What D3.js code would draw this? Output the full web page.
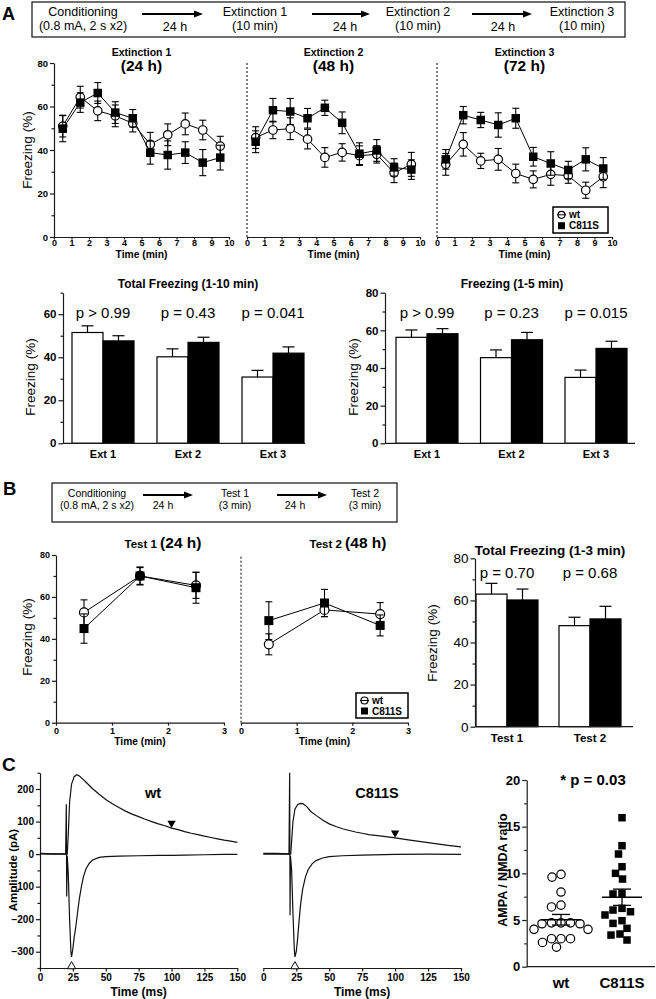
<!DOCTYPE html>
<html><head><meta charset="utf-8">
<script src="https://cdn.jsdelivr.net/npm/d3@7"></script>
<style>
html,body{margin:0;padding:0;background:#fff;}
svg{display:block;font-family:"Liberation Sans",Arial,Helvetica,sans-serif;}
</style></head><body>
<svg id="fig" width="656" height="999"></svg>
<script>
// ---------------- DATA ----------------
const extTimes = [0.5,1.5,2.5,3.5,4.5,5.5,6.5,7.5,8.5,9.5];
const extTicks = [0,1,2,3,4,5,6,7,8,9,10];
const ext1WtMean = [51,64.3,58,55.7,52.3,42.6,47,52,49.2,41.8];
const ext1WtSem  = [5,5,4.5,5,4,5.5,5,5,4.5,4.5];
const ext1MutMean = [49.8,61.8,66.2,57.2,54.6,38.8,37.7,38.8,34.2,36.5];
const ext1MutSem  = [6,4.5,4.8,5,4,5.3,6.5,5,6,5.7];
const ext2WtMean = [45.7,49.2,49.8,45,36.6,38.9,37.4,38,29.5,33.4];
const ext2WtSem  = [5,4,5,4.5,4.5,4,4.5,4,4.5,5.5];
const ext2MutMean = [43.8,58.3,57.7,54.6,59.4,52.5,38.3,39.8,32,31];
const ext2MutSem  = [5,5.4,6,4.5,3.5,5,5,5,4,4.5];
const ext3WtMean = [33.4,42.6,35,35.7,29.2,26.5,28.8,28.2,21.5,27.7];
const ext3WtSem  = [5,5.4,3.5,5,4.3,3.9,5,3.5,3.7,5];
const ext3MutMean = [35.7,56,53.8,51.5,54.6,36.9,33.8,30.8,35.7,31.5];
const ext3MutSem  = [4.5,4,3.5,5.6,4.6,4.3,5.4,4,5.3,5];

const extCats = ["Ext 1","Ext 2","Ext 3"];
const tot10WtMean = [51.5,40.2,30.8];
const tot10WtSem  = [3.1,3.7,3.1];
const tot10MutMean = [47.6,46.9,41.9];
const tot10MutSem  = [2.4,2.4,2.9];
const tot10P = ["p > 0.99","p = 0.43","p = 0.041"];
const frz5WtMean = [56.3,45.5,35];
const frz5WtSem  = [3.9,4.1,3.9];
const frz5MutMean = [58.2,55,50.4];
const frz5MutSem  = [2.7,3.9,3.8];
const frz5P = ["p > 0.99","p = 0.23","p = 0.015"];

const testTimes = [0.5,1.5,2.5];
const testTicks = [0,1,2,3];
const test1WtMean = [52.6,70,65.5];
const test1WtSem  = [6,4,6.2];
const test1MutMean = [44.9,70,64.4];
const test1MutSem  = [7,4.3,7.4];
const test2WtMean = [37.4,53.8,51.8];
const test2WtSem  = [5,3.2,5.5];
const test2MutMean = [48.7,57.1,46.4];
const test2MutSem  = [9,6.5,5];

const testCats = ["Test 1","Test 2"];
const tot3WtMean = [63,48];
const tot3WtSem  = [5.1,4];
const tot3MutMean = [60.2,51.2];
const tot3MutSem  = [5.2,6];
const tot3P = ["p = 0.70","p = 0.68"];

// traces: [time (ms), amplitude (pA)]
const wtNmda = [[0,2],[10,1],[19.5,1],[20.7,0],[21.5,60],[22.5,160],[24,215],[26,238],[28,244],[30,240],[33,229],[36,217],[40,201],[45,184],[50,168],[55,155],[60,143],[65,132],[70,123],[75,115],[80,107],[85,100],[90,93],[95,87],[100,80],[105,75],[110,69],[115,64],[120,60],[125,55],[130,51],[135,47],[140,43],[145,40],[150,36]];
const wtAmpa = [[0,1],[10,0],[19.5,0],[20,153],[20.3,-130],[20.7,-5],[21.5,-60],[22.5,-200],[23.5,-300],[24,-316],[25,-290],[26,-255],[27,-230],[28,-198],[29,-165],[30,-135],[31.5,-100],[33,-70],[35,-45],[37.5,-28],[40,-18],[45,-10],[50,-8],[60,-6],[75,-5],[90,-4],[100,-4],[110,-3],[125,-2],[140,-1],[150,-1]];
const mutNmda = [[0,2],[10,2],[19.5,1],[20.8,0],[21.5,40],[22.5,100],[24,138],[26,152],[28,156],[30,155],[33,146],[36,131],[40,119],[45,105],[50,93],[55,85],[60,78],[70,68],[75,64],[80,60],[90,55],[100,50],[110,44],[125,35],[140,27],[150,22]];
const mutAmpa = [[0,0],[10,1],[19.5,0],[20,250],[20.3,-188],[20.6,-5],[21.5,-50],[22.5,-180],[23.5,-290],[24,-316],[25,-300],[26,-262],[27,-212],[28,-166],[29,-132],[30,-105],[32,-70],[34,-48],[37,-30],[40,-20],[45,-12],[50,-8],[60,-5],[75,-3],[100,-1],[125,0],[150,-1]];
const wtNmdaMark = [100,95];
const wtAmpaMark = [24,-345];
const mutNmdaMark = [100,65];
const mutAmpaMark = [24,-345];

const ratioCats = ["wt","C811S"];
const ratioWt = [9.6,9.9,8.0,6.4,6.6,4.7,4.6,4.7,4.6,4.7,4.0,4.0,3.0,3.0,3.0,2.6,2.1];
const ratioMut = [15.96,12.96,12.07,10.71,10.0,9.39,7.86,7.79,6.25,5.89,6.07,5.54,4.93,4.64,4.11,3.5,3.39,2.86];

// ---------------- HELPERS ----------------
const FONT = '"Liberation Sans", Arial, Helvetica, sans-serif';
const svg = d3.select("#fig");
const AX = "#1a1a1a";

function txt(g, x, y, s, o = {}) {
  const t = g.append("text").attr("x", x).attr("y", y).text(s)
    .attr("font-size", o.size || 12).attr("font-weight", o.bold ? "bold" : "normal")
    .attr("text-anchor", o.anchor || "middle").attr("fill", "#000").attr("font-family", FONT);
  if (o.rotate) t.attr("transform", `rotate(-90,${x},${y})`);
  return t;
}
function styleAxis(ax, fs, bold, sw = 1.2) {
  ax.attr("font-family", FONT).attr("font-size", fs);
  ax.select(".domain").attr("stroke", AX).attr("stroke-width", sw);
  ax.selectAll(".tick line").attr("stroke", AX).attr("stroke-width", sw);
  ax.selectAll(".tick text").attr("fill", "#000").attr("font-weight", bold ? "bold" : "normal").attr("font-size", fs);
}
function yAxis(g, scale, x, major, minor, fs, bold, tsize = 4, pad = 2) {
  const ax = g.append("g").attr("transform", `translate(${x},0)`)
    .call(d3.axisLeft(scale).tickValues(major).tickSize(tsize).tickSizeOuter(0).tickPadding(pad));
  styleAxis(ax, fs, bold);
  if (minor && minor.length) {
    const m = g.append("g").attr("transform", `translate(${x},0)`)
      .call(d3.axisLeft(scale).tickValues(minor).tickSize(2.5).tickFormat(""));
    m.select(".domain").remove();
    m.selectAll(".tick line").attr("stroke", AX).attr("stroke-width", 1.2);
  }
  return ax;
}
function marker(g, type, cx, cy, s) {
  if (type === "circle") {
    g.append("circle").attr("cx", cx).attr("cy", cy).attr("r", s / 2)
      .attr("fill", "#fff").attr("stroke", "#000").attr("stroke-width", 1.2);
  } else {
    g.append("rect").attr("x", cx - s / 2).attr("y", cy - s / 2).attr("width", s).attr("height", s).attr("fill", "#000");
  }
}
function drawSeries(g, x, y, times, mean, sem, type, cap, msize) {
  const line = d3.line().x((d, i) => x(times[i])).y(d => y(d));
  g.append("path").attr("d", line(mean)).attr("fill", "none").attr("stroke", "#000").attr("stroke-width", 1);
  mean.forEach((m, i) => {
    const cx = x(times[i]);
    const y1 = y(m - sem[i]), y2 = y(m + sem[i]);
    g.append("line").attr("x1", cx).attr("x2", cx).attr("y1", y1).attr("y2", y2).attr("stroke", "#000").attr("stroke-width", 1.1);
    [y1, y2].forEach(yy => g.append("line").attr("x1", cx - cap).attr("x2", cx + cap).attr("y1", yy).attr("y2", yy).attr("stroke", "#000").attr("stroke-width", 1.1));
  });
  mean.forEach((m, i) => marker(g, type, x(times[i]), y(m), msize));
}
function legend(g, x, y, w, h, fs) {
  g.append("rect").attr("x", x).attr("y", y).attr("width", w).attr("height", h)
    .attr("fill", "#fff").attr("stroke", "#000").attr("stroke-width", 1.5);
  const r1 = y + h * 0.3, r2 = y + h * 0.72;
  marker(g, "circle", x + 8.5, r1, 7);
  g.append("line").attr("x1", x + 4).attr("x2", x + 13).attr("y1", r1).attr("y2", r1).attr("stroke", "#000");
  marker(g, "square", x + 8.5, r2, 7);
  txt(g, x + 16, r1 + fs * 0.36, "wt", { size: fs, bold: true, anchor: "start" });
  txt(g, x + 16, r2 + fs * 0.36, "C811S", { size: fs, bold: true, anchor: "start" });
}
function arrow(g, x1, x2, y) {
  g.append("line").attr("x1", x1).attr("x2", x2 - 7).attr("y1", y).attr("y2", y).attr("stroke", "#000").attr("stroke-width", 2);
  g.append("path").attr("d", `M${x2},${y} L${x2 - 9},${y - 3.5} L${x2 - 9},${y + 3.5} Z`).attr("fill", "#000");
}

// ---------------- PANEL A ----------------
const gA = svg.append("g");
txt(gA, 2, 20, "A", { size: 18, bold: true, anchor: "start" });
gA.append("rect").attr("x", 32).attr("y", 2).attr("width", 593).attr("height", 35)
  .attr("fill", "none").attr("stroke", "#222").attr("stroke-width", 1.3);
[["Conditioning", "(0.8 mA, 2 s x2)", 83], ["Extinction 1", "(10 min)", 255], ["Extinction 2", "(10 min)", 418], ["Extinction 3", "(10 min)", 582]]
  .forEach(d => { txt(gA, d[2], 15.5, d[0], { size: 12.5 }); txt(gA, d[2], 30, d[1], { size: 12.5 }); });
[[142, 203, 175], [312, 370, 345], [472, 532, 503]].forEach(d => { arrow(gA, d[0], d[1], 14); txt(gA, d[2], 31, "24 h", { size: 12.5 }); });

function lineChartA(x0, x1, wm, ws, mm, ms, t1, t2, hasY) {
  const g = svg.append("g");
  const x = d3.scaleLinear().domain([0, 10]).range([x0, x1]);
  const y = d3.scaleLinear().domain([0, 80]).range([237, 63]);
  const xa = g.append("g").attr("transform", `translate(0,237)`)
    .call(d3.axisBottom(x).tickValues(extTicks).tickSize(2.5).tickSizeOuter(0).tickPadding(0.5).tickFormat(d3.format("d")));
  styleAxis(xa, 9, true);
  if (hasY) yAxis(g, y, x0, [0, 20, 40, 60, 80], [10, 30, 50, 70], 9.5, true, 4, 2);
  else g.append("line").attr("x1", x(0)).attr("x2", x(0)).attr("y1", y(0)).attr("y2", y(80))
    .attr("stroke", "#000").attr("stroke-width", 1).attr("stroke-dasharray", "2,2");
  drawSeries(g, x, y, extTimes, wm, ws, "circle", 3.5, 8.5);
  drawSeries(g, x, y, extTimes, mm, ms, "square", 3.5, 8.5);
  const cx = (x0 + x1) / 2;
  txt(g, cx, 56, t1, { size: 10.5, bold: true });
  txt(g, cx, 71, t2, { size: 15.5, bold: true });
  txt(g, cx, 257.5, "Time (min)", { size: 10.3, bold: true });
  return g;
}
lineChartA(54, 229, ext1WtMean, ext1WtSem, ext1MutMean, ext1MutSem, "Extinction 1", "(24 h)", true);
lineChartA(247, 420, ext2WtMean, ext2WtSem, ext2MutMean, ext2MutSem, "Extinction 2", "(48 h)", false);
const gA3 = lineChartA(437, 612, ext3WtMean, ext3WtSem, ext3MutMean, ext3MutSem, "Extinction 3", "(72 h)", false);
legend(gA3, 553, 207, 55, 26, 10);
txt(gA, 27, 150, "Freezing (%)", { size: 13.5, rotate: true }).attr("dy", "0.35em");

function barChart(o) {
  const g = svg.append("g");
  const y = d3.scaleLinear().domain([0, o.yMax]).range([o.y0, o.yTop]);
  const x = d3.scalePoint().domain(o.cats).range(o.centers);
  o.cats.forEach((c, i) => {
    const cx = x(c);
    [[o.wm, o.ws, "#fff", cx - o.bw], [o.mm, o.ms, "#000", cx]].forEach(([m, s, fill, bx]) => {
      const top = y(m[i]), e = y(m[i] + s[i]), mid = bx + o.bw / 2;
      g.append("line").attr("x1", mid).attr("x2", mid).attr("y1", top).attr("y2", e).attr("stroke", "#000").attr("stroke-width", 1.2);
      g.append("line").attr("x1", mid - o.cap).attr("x2", mid + o.cap).attr("y1", e).attr("y2", e).attr("stroke", "#000").attr("stroke-width", 1.2);
      g.append("rect").attr("x", bx).attr("y", top).attr("width", o.bw).attr("height", o.y0 - top)
        .attr("fill", fill).attr("stroke", "#000").attr("stroke-width", 1.2);
    });
    txt(g, cx, o.labY, c, { size: o.labFs, bold: true });
    txt(g, cx, o.pY, o.p[i], { size: 15 });
  });
  g.append("line").attr("x1", o.x0).attr("x2", o.x1).attr("y1", o.y0).attr("y2", o.y0).attr("stroke", AX).attr("stroke-width", 1.2);
  yAxis(g, y, o.x0, o.major, o.minor, o.tickFs, o.tickBold, 4.5, 2);
  txt(g, o.titleX, o.titleY, o.title, { size: o.titleFs, bold: true });
  txt(g, o.ylabX, o.ylabY, "Freezing (%)", { size: 13.5, rotate: true }).attr("dy", "0.35em");
}
barChart({ cats: extCats, wm: tot10WtMean, ws: tot10WtSem, mm: tot10MutMean, ms: tot10MutSem, p: tot10P,
  yMax: 70, y0: 443.3, yTop: 292.7, centers: [103, 273], bw: 31, cap: 6, x0: 63, x1: 305,
  major: [0, 20, 40, 60], minor: [10, 30, 50, 70], tickFs: 11.5, tickBold: true,
  labY: 458, labFs: 11, pY: 318, title: "Total Freezing (1-10 min)", titleX: 188, titleY: 288, titleFs: 12,
  ylabX: 30, ylabY: 377 });
barChart({ cats: extCats, wm: frz5WtMean, ws: frz5WtSem, mm: frz5MutMean, ms: frz5MutSem, p: frz5P,
  yMax: 80, y0: 443.3, yTop: 292.7, centers: [427, 596], bw: 31, cap: 6, x0: 385, x1: 635,
  major: [0, 20, 40, 60, 80], minor: [10, 30, 50, 70], tickFs: 11.5, tickBold: true,
  labY: 458, labFs: 11, pY: 318, title: "Freezing (1-5 min)", titleX: 512, titleY: 288, titleFs: 12,
  ylabX: 353, ylabY: 377 });

// ---------------- PANEL B ----------------
const gB = svg.append("g");
txt(gB, 3, 495, "B", { size: 18.5, bold: true, anchor: "start" });
gB.append("rect").attr("x", 52).attr("y", 483).attr("width", 345).attr("height", 39)
  .attr("fill", "none").attr("stroke", "#222").attr("stroke-width", 1.3);
[["Conditioning", "(0.8 mA, 2 s x2)", 97], ["Test 1", "(3 min)", 235], ["Test 2", "(3 min)", 365]]
  .forEach(d => { txt(gB, d[2], 497, d[0], { size: 10.5 }); txt(gB, d[2], 509, d[1], { size: 10.5 }); });
[[143, 193, 163], [277, 327, 295]].forEach(d => { arrow(gB, d[0], d[1], 495); txt(gB, d[2], 509, "24 h", { size: 10.5 }); });

function lineChartB(x0, x1, wm, ws, mm, ms, t1, t2, tx, hasY) {
  const g = svg.append("g");
  const x = d3.scaleLinear().domain([0, 3]).range([x0, x1]);
  const y = d3.scaleLinear().domain([0, 80]).range([722.7, 555]);
  const xa = g.append("g").attr("transform", `translate(0,722.7)`)
    .call(d3.axisBottom(x).tickValues(testTicks).tickSize(3).tickSizeOuter(0).tickPadding(1.5).tickFormat(d3.format("d")));
  styleAxis(xa, 9, true);
  if (hasY) yAxis(g, y, x0, [0, 20, 40, 60, 80], [10, 30, 50, 70], 9, true, 4, 2);
  else g.append("line").attr("x1", x(0)).attr("x2", x(0)).attr("y1", y(0)).attr("y2", y(80))
    .attr("stroke", "#000").attr("stroke-width", 1).attr("stroke-dasharray", "2,2");
  drawSeries(g, x, y, testTimes, wm, ws, "circle", 3.5, 9);
  drawSeries(g, x, y, testTimes, mm, ms, "square", 3.5, 9);
  const t = g.append("text").attr("x", tx).attr("y", 548).attr("text-anchor", "middle").attr("font-weight", "bold").attr("font-family", FONT);
  t.append("tspan").attr("font-size", 11.5).text(t1 + " ");
  t.append("tspan").attr("font-size", 15.5).text(t2);
  txt(g, (x0 + x1) / 2, 745, "Time (min)", { size: 10.2, bold: true });
  return g;
}
lineChartB(56, 224, test1WtMean, test1WtSem, test1MutMean, test1MutSem, "Test 1", "(24 h)", 163, true);
const gB2 = lineChartB(241, 408, test2WtMean, test2WtSem, test2MutMean, test2MutSem, "Test 2", "(48 h)", 348, false);
legend(gB2, 356, 693, 52, 25, 10);
txt(gB, 27, 637, "Freezing (%)", { size: 13.5, rotate: true }).attr("dy", "0.35em");

barChart({ cats: testCats, wm: tot3WtMean, ws: tot3WtSem, mm: tot3MutMean, ms: tot3MutSem, p: tot3P,
  yMax: 80, y0: 726.7, yTop: 558.3, centers: [507, 590], bw: 31, cap: 6, x0: 475, x1: 633,
  major: [0, 20, 40, 60, 80], minor: [10, 30, 50, 70], tickFs: 13.5, tickBold: false,
  labY: 742, labFs: 11.5, pY: 578, title: "Total Freezing (1-3 min)", titleX: 550, titleY: 555, titleFs: 13.5,
  ylabX: 432, ylabY: 643 });

// ---------------- PANEL C ----------------
const gC = svg.append("g");
txt(gC, 2, 771, "C", { size: 19, bold: true, anchor: "start" });

function traceChart(x0, x1, nm, am, nMark, aMark, label, lx, hasY) {
  const g = svg.append("g");
  const x = d3.scaleLinear().domain([0, 150]).range([x0, x1]);
  const y = d3.scaleLinear().domain([-350, 250]).range([968, 772.75]);
  const xa = g.append("g").attr("transform", `translate(0,968)`)
    .call(d3.axisBottom(x).tickValues([0, 25, 50, 75, 100, 125, 150]).tickSize(3.5).tickSizeOuter(0).tickPadding(2));
  styleAxis(xa, 10, true);
  if (hasY) yAxis(g, y, x0, [-300, -200, -100, 0, 100, 200], [-350, -250, -150, -50, 50, 150, 250], 10, true, 4, 2);
  const line = d3.line().x(d => x(d[0])).y(d => y(d[1]));
  [nm, am].forEach(tr => g.append("path").attr("d", line(tr)).attr("fill", "none").attr("stroke", "#111").attr("stroke-width", 1.2));
  g.append("path").attr("d", d3.symbol(d3.symbolTriangle, 30)()).attr("transform", `translate(${x(nMark[0])},${y(nMark[1])}) rotate(180)`).attr("fill", "#000");
  g.append("path").attr("d", d3.symbol(d3.symbolTriangle, 30)()).attr("transform", `translate(${x(aMark[0])},${y(aMark[1])})`).attr("fill", "#fff").attr("stroke", "#000").attr("stroke-width", 1);
  txt(g, lx, 798, label, { size: 14.5, bold: true });
  txt(g, (x0 + x1) / 2, 996, "Time (ms)", { size: 12, bold: true });
}
traceChart(40, 237.3, wtNmda, wtAmpa, wtNmdaMark, wtAmpaMark, "wt", 153, true);
traceChart(263.3, 461, mutNmda, mutAmpa, mutNmdaMark, mutAmpaMark, "C811S", 377, false);
txt(gC, 13, 870, "Amplitude (pA)", { size: 11.5, bold: true, rotate: true }).attr("dy", "0.35em");

// scatter
(function () {
  const g = svg.append("g");
  const y = d3.scaleLinear().domain([0, 20]).range([966.7, 780]);
  const x = d3.scalePoint().domain(ratioCats).range([561, 622]);
  g.append("line").attr("x1", 526.7).attr("x2", 655).attr("y1", 966.7).attr("y2", 966.7).attr("stroke", AX).attr("stroke-width", 1.2);
  yAxis(g, y, 526.7, [0, 5, 10, 15, 20], [2.5, 7.5, 12.5, 17.5], 13, true, 4.5, 2);
  function swarm(vals, cx, r) {
    const order = vals.map((v, i) => i).sort((a, b) => vals[b] - vals[a]);
    const placed = [];
    order.forEach(i => {
      const py = y(vals[i]);
      for (let k = 0; k < 200; k++) {
        const off = (k % 2 ? -1 : 1) * Math.ceil(k / 2) * 0.5;
        const px = cx + off;
        if (placed.every(p => (p[0] - px) ** 2 + (p[1] - py) ** 2 >= (2 * r + 1) ** 2)) { placed.push([px, py]); break; }
      }
    });
    return placed;
  }
  swarm(ratioWt, x("wt"), 4.2).forEach(p => marker(g, "circle", p[0], p[1], 8.4));
  swarm(ratioMut, x("C811S"), 4).forEach(p => marker(g, "square", p[0], p[1], 7.5));
  [[ratioWt, "wt"], [ratioMut, "C811S"]].forEach(([v, c]) => {
    const m = d3.mean(v), se = d3.deviation(v) / Math.sqrt(v.length), cx = x(c);
    g.append("line").attr("x1", cx - 20).attr("x2", cx + 20).attr("y1", y(m)).attr("y2", y(m)).attr("stroke", "#000").attr("stroke-width", 1.3);
    g.append("line").attr("x1", cx).attr("x2", cx).attr("y1", y(m - se)).attr("y2", y(m + se)).attr("stroke", "#000").attr("stroke-width", 1.3);
    [m - se, m + se].forEach(v2 => g.append("line").attr("x1", cx - 9).attr("x2", cx + 9).attr("y1", y(v2)).attr("y2", y(v2)).attr("stroke", "#000").attr("stroke-width", 1.3));
    txt(g, cx, 988, c, { size: 15, bold: true });
  });
  txt(g, 593, 785, "* p = 0.03", { size: 15, bold: true });
  txt(g, 503, 870, "AMPA / NMDA ratio", { size: 12.5, bold: true, rotate: true }).attr("dy", "0.35em");
})();
</script></body></html>
